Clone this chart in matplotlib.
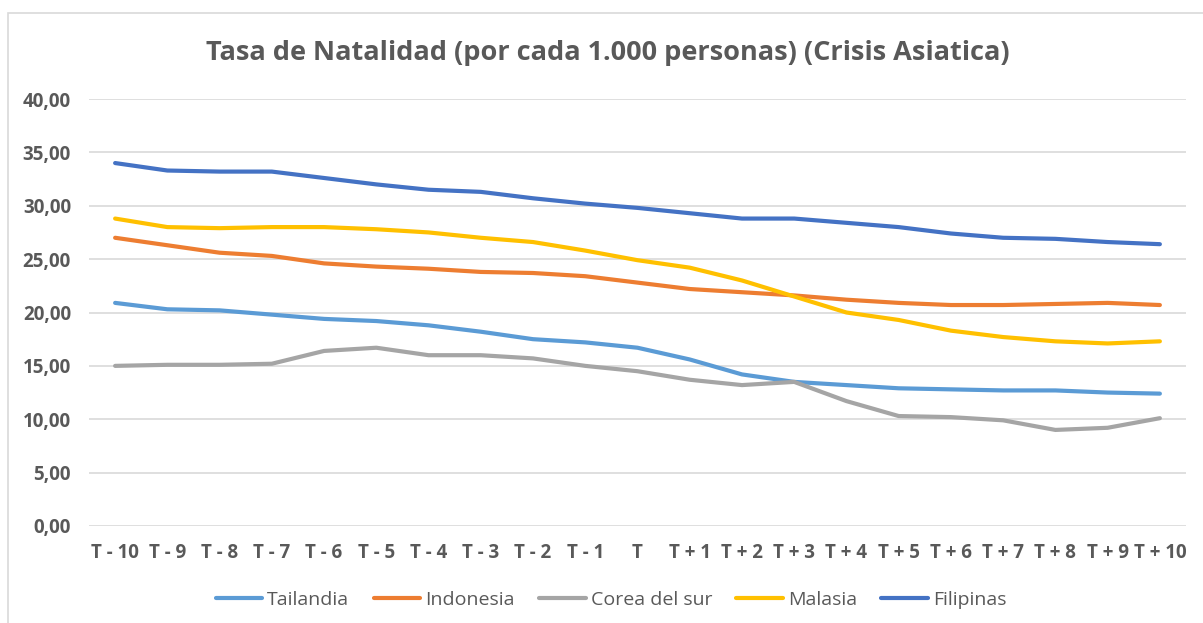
import numpy as np
import matplotlib
matplotlib.use("Agg")
import matplotlib.pyplot as plt
from matplotlib.patches import Rectangle

plt.rcParams['font.family'] = ['Open Sans', 'DejaVu Sans']

periodos = ["T - 10", "T - 9", "T - 8", "T - 7", "T - 6", "T - 5", "T - 4", "T - 3", "T - 2", "T - 1", "T",
            "T + 1", "T + 2", "T + 3", "T + 4", "T + 5", "T + 6", "T + 7", "T + 8", "T + 9", "T + 10"]

tailandia = [20.9, 20.3, 20.2, 19.8, 19.4, 19.2, 18.8, 18.2, 17.5, 17.2, 16.7,
             15.6, 14.2, 13.5, 13.2, 12.9, 12.8, 12.7, 12.7, 12.5, 12.4]
indonesia = [27.0, 26.3, 25.6, 25.3, 24.6, 24.3, 24.1, 23.8, 23.7, 23.4, 22.8,
             22.2, 21.9, 21.6, 21.2, 20.9, 20.7, 20.7, 20.8, 20.9, 20.7]
corea = [15.0, 15.1, 15.1, 15.2, 16.4, 16.7, 16.0, 16.0, 15.7, 15.0, 14.5,
         13.7, 13.2, 13.5, 11.7, 10.3, 10.2, 9.9, 9.0, 9.2, 10.1]
malasia = [28.8, 28.0, 27.9, 28.0, 28.0, 27.8, 27.5, 27.0, 26.6, 25.8, 24.9,
           24.2, 23.0, 21.5, 20.0, 19.3, 18.3, 17.7, 17.3, 17.1, 17.3]
filipinas = [34.0, 33.3, 33.2, 33.2, 32.6, 32.0, 31.5, 31.3, 30.7, 30.2, 29.8,
             29.3, 28.8, 28.8, 28.4, 28.0, 27.4, 27.0, 26.9, 26.6, 26.4]

series = [("Tailandia", tailandia, "#5B9BD5"),
          ("Indonesia", indonesia, "#ED7D31"),
          ("Corea del sur", corea, "#A5A5A5"),
          ("Malasia", malasia, "#FFC000"),
          ("Filipinas", filipinas, "#4472C4")]

gris = "#595959"

fig = plt.figure(figsize=(12.03, 6.23), dpi=100)
ax = fig.add_axes([89 / 1203, 97 / 623, 1097 / 1203, 427 / 623])

# borde del grafico (solo arriba e izquierda visibles)
fig.patches.append(Rectangle((8 / 1203, -0.2), 1.2, (623 - 13) / 623 + 0.2,
                             transform=fig.transFigure, fill=False,
                             edgecolor="#D9D9D9", linewidth=1.2))

x = np.arange(len(periodos))
for nombre, valores, color in series:
    ax.plot(x, valores, color=color, linewidth=3, label=nombre,
            solid_capstyle="round", solid_joinstyle="round")

ax.set_xlim(-0.5, len(periodos) - 0.5)
ax.set_ylim(0, 40)
ax.set_yticks(np.arange(0, 41, 5))
ax.set_yticklabels([f"{v:.2f}".replace(".", ",") for v in np.arange(0, 41, 5)])
ax.set_xticks(x)
ax.set_xticklabels(periodos)
ax.grid(axis="y", color="#D9D9D9", linewidth=1.2)
ax.set_axisbelow(True)
for s in ax.spines.values():
    s.set_visible(False)
ax.tick_params(length=0, colors=gris, labelsize=13.5)
ax.tick_params(axis="x", pad=12)
ax.tick_params(axis="y", pad=13)
for lbl in ax.get_xticklabels() + ax.get_yticklabels():
    lbl.set_fontweight("bold")

fig.text(608 / 1203, 1 - 53 / 623, "Tasa de Natalidad (por cada 1.000 personas) (Crisis Asiatica)",
         ha="center", va="center", fontsize=19.5, fontweight="bold", color=gris)

fig.legend(loc="center", bbox_to_anchor=(611 / 1203, 1 - 600 / 623), ncol=5, frameon=False,
           fontsize=14, labelcolor=gris, handlelength=2.4, handletextpad=0.25, columnspacing=1.25)

fig.savefig("out.png", dpi=100)
